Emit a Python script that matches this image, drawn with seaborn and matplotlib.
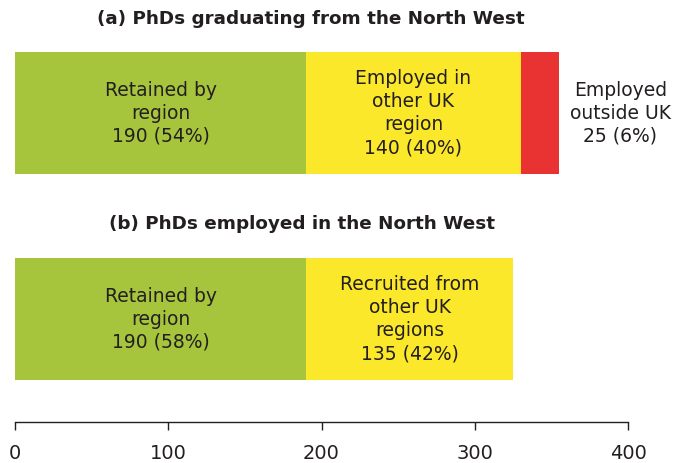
import pandas as pd
import seaborn as sns
import matplotlib.pyplot as plt

# data
panels = ['(a) PhDs graduating from the North West', '(b) PhDs employed in the North West']
seg_names = [['Retained by\nregion', 'Employed in\nother UK\nregion', 'Employed\noutside UK'],
             ['Retained by\nregion', 'Recruited from\nother UK\nregions']]
seg_values = [[190, 140, 25], [190, 135]]
seg_pcts = [[54, 40, 6], [58, 42]]
colors = ['#a6c53d', '#fce82b', '#e93232']

sns.set_style('white')
plt.rcParams['font.family'] = ['DejaVu Sans']

fig = plt.figure(figsize=(6.74, 4.63), dpi=100)
ax = fig.add_axes([15 / 674, 41 / 463, 613 / 674, 422 / 463])

# stacked bars: draw cumulative totals, largest first
rows = []
for p, vals in zip(['a', 'b'], seg_values):
    cum = 0
    for i, v in enumerate(vals):
        cum += v
        rows.append({'panel': p, 'seg': i, 'cum': cum})
df = pd.DataFrame(rows)

for i in reversed(range(3)):
    sub = df[df['seg'] == i]
    sns.barplot(data=sub, x='cum', y='panel', order=['a', 'b'], color=colors[i],
                width=0.59, saturation=1, ax=ax, orient='h', linewidth=0)

# labels
title_x = [193, 187]
for row, (names, vals, pcts) in enumerate(zip(seg_names, seg_values, seg_pcts)):
    start = 0
    for j, (n, v, pc) in enumerate(zip(names, vals, pcts)):
        xc = start + v / 2
        if row == 0 and j == 2:
            xc = 395
        ax.text(xc, row, f'{n}\n{v} ({pc}%)', ha='center', va='center',
                fontsize=13.5, color='#231f20', linespacing=1.27)
        start += v
    ax.text(title_x[row], row - 0.46, panels[row], ha='center', va='center',
            fontsize=13.2, fontweight='bold', color='#231f20')

ax.set_xlim(0, 400)
ax.set_ylim(1.5, -0.55)
ax.set_xticks([0, 100, 200, 300, 400])
ax.set_yticks([])
ax.set_xlabel('')
ax.set_ylabel('')
for s in ['top', 'right', 'left']:
    ax.spines[s].set_visible(False)
ax.spines['bottom'].set_color('#231f20')
ax.spines['bottom'].set_linewidth(1)
ax.tick_params(axis='x', bottom=True, length=6, width=1, color='#231f20',
               labelsize=14, labelcolor='#231f20', pad=10)

fig.savefig('out.png', dpi=100)
